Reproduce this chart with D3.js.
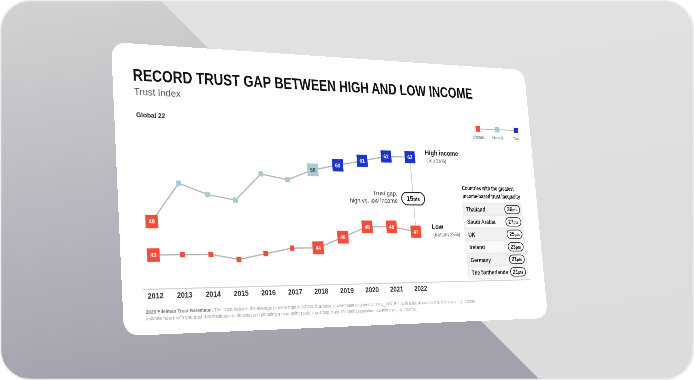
<!DOCTYPE html>
<html><head><meta charset="utf-8">
<script src="https://cdn.jsdelivr.net/npm/d3@7"></script>
<style>
html,body{margin:0;padding:0;background:#fff;width:694px;height:380px;overflow:hidden}
#bg{position:absolute;left:0;top:0}
#card{position:absolute;left:0;top:0;width:960px;height:540px;transform-origin:0 0}
svg text{font-family:"Liberation Sans",Arial,Helvetica,sans-serif}
</style></head><body>
<svg id="bg" width="694" height="380"></svg>
<div id="card"><svg id="slide" width="960" height="540"></svg></div>
<script>
// ---------------- data ----------------
const years = [2012, 2013, 2014, 2015, 2016, 2017, 2018, 2019, 2020, 2021, 2022];
const highIncome = [49, 56, 54, 53, 58, 57, 59, 60, 61, 62, 62];
const lowIncome  = [43, 43, 43, 42, 43, 44, 44, 46, 48, 48, 47];
const labeledYears = [2012, 2018, 2019, 2020, 2021, 2022];
const countries = ["Thailand", "Saudi Arabia", "UK", "Ireland", "Germany", "The Netherlands"];
const countryGaps = [36, 27, 25, 23, 21, 21];
const legendLabels = ["Distrust", "Neutral", "Trust"];
const title = "RECORD TRUST GAP BETWEEN HIGH AND LOW INCOME";
const subtitle = "Trust Index";
const footnote1 = "The Trust Index is the average percent trust in NGOs, business, government and media. TRU_INS. Below is a list of institutions. For each one, please";
const footnote2 = "indicate how much you trust that institution to do what is right using a nine-point scale, top 4 box, trust. General population, 22-mkt avg., by income.";

const COL = {distrust: "#f24e3b", neutral: "#a9c9d5", trust: "#1b35c8"};
const colorOf = v => v < 50 ? COL.distrust : (v < 60 ? COL.neutral : COL.trust);

// ---------------- background ----------------
const bg = d3.select("#bg");
const defs = bg.append("defs");
defs.append("clipPath").attr("id", "frame").append("rect")
  .attr("x", 0.5).attr("y", 0.5).attr("width", 693).attr("height", 379).attr("rx", 30);
const g1 = defs.append("linearGradient").attr("id", "shade")
  .attr("x1", 0).attr("y1", 0).attr("x2", 0.25).attr("y2", 1);
g1.append("stop").attr("offset", 0).attr("stop-color", "#d3d3d3");
g1.append("stop").attr("offset", 0.45).attr("stop-color", "#bdbcc3");
g1.append("stop").attr("offset", 1).attr("stop-color", "#a3a1ac");
const g2 = defs.append("linearGradient").attr("id", "light")
  .attr("x1", 0).attr("y1", 0).attr("x2", 0.3).attr("y2", 1);
g2.append("stop").attr("offset", 0).attr("stop-color", "#e3e3e3");
g2.append("stop").attr("offset", 1).attr("stop-color", "#dcdcdc");
const fr = bg.append("g").attr("clip-path", "url(#frame)");
fr.append("rect").attr("width", 694).attr("height", 380).attr("fill", "url(#light)");
fr.append("polygon").attr("points", "0,0 160,0 540,380 0,380").attr("fill", "url(#shade)");
bg.append("rect").attr("x", 0.5).attr("y", 0.5).attr("width", 693).attr("height", 379).attr("rx", 30)
  .attr("fill", "none").attr("stroke", "#eeeeee").attr("stroke-width", 1.5);

// ---------------- perspective of the card ----------------
const W = 960, H = 540;
const quad = [[111, 42], [524, 70], [548, 318], [124, 336]]; // TL, TR, BR, BL
(function () {
  const [x0, y0] = quad[0], [x1, y1] = quad[1], [x2, y2] = quad[2], [x3, y3] = quad[3];
  const dx1 = x1 - x2, dx2 = x3 - x2, dx3 = x0 - x1 + x2 - x3;
  const dy1 = y1 - y2, dy2 = y3 - y2, dy3 = y0 - y1 + y2 - y3;
  const det = dx1 * dy2 - dx2 * dy1;
  const g = (dx3 * dy2 - dx2 * dy3) / det;
  const h = (dx1 * dy3 - dx3 * dy1) / det;
  const a = x1 - x0 + g * x1, b = x3 - x0 + h * x3, c = x0;
  const d = y1 - y0 + g * y1, e = y3 - y0 + h * y3, f = y0;
  const m = [a / W, d / W, 0, g / W, b / H, e / H, 0, h / H, 0, 0, 1, 0, c, f, 0, 1];
  d3.select("#card").style("transform", "matrix3d(" + m.join(",") + ")");
})();

// ---------------- slide ----------------
const S = d3.select("#slide");
S.append("rect").attr("width", W).attr("height", H).attr("rx", 28).attr("fill", "#ffffff");

S.append("text").attr("x", 40).attr("y", 71).text(title)
  .attr("font-size", 31).attr("font-weight", "bold").attr("fill", "#111")
  .attr("textLength", 775).attr("lengthAdjust", "spacingAndGlyphs");
S.append("text").attr("x", 41).attr("y", 98).text(subtitle)
  .attr("font-size", 19).attr("fill", "#555");
S.append("text").attr("x", 43).attr("y", 140).text("Global 22")
  .attr("font-size", 13).attr("font-weight", "bold").attr("fill", "#222");

// legend
const lx = d3.scalePoint().domain(legendLabels).range([821, 922]);
const legCols = [COL.distrust, COL.neutral, COL.trust];
S.append("line").attr("x1", lx("Distrust")).attr("x2", lx("Trust")).attr("y1", 136).attr("y2", 136)
  .attr("stroke", "#b8b8b8").attr("stroke-width", 2);
legendLabels.forEach((l, i) => {
  S.append("rect").attr("x", lx(l) - 6).attr("y", 130).attr("width", 12).attr("height", 12).attr("fill", legCols[i]);
  S.append("text").attr("x", lx(l)).attr("y", 157).attr("text-anchor", "middle").text(l)
    .attr("font-size", 9).attr("fill", "#666");
});

// scales
const x = d3.scalePoint().domain(years).range([64, 642]);
const y = d3.scaleLinear().domain([40, 65]).range([426.8, 170.3]);

// axis
S.append("line").attr("x1", 40).attr("x2", 922).attr("y1", 458).attr("y2", 458)
  .attr("stroke", "#d3d3d3").attr("stroke-width", 2);
const ax = S.append("g").attr("transform", "translate(0,458)")
  .call(d3.axisBottom(x).tickSize(0).tickPadding(7));
ax.select(".domain").remove();
ax.selectAll("text").attr("font-size", 14).attr("font-weight", "bold").attr("fill", "#333")
  .attr("font-family", '"Liberation Sans",Arial,sans-serif');

// lines
const line = d3.line().x((d, i) => x(years[i])).y(d => y(d));
[highIncome, lowIncome].forEach(s => {
  S.append("path").attr("d", line(s)).attr("fill", "none").attr("stroke", "#b4b4b4").attr("stroke-width", 2.5);
});

// trust gap connector
const last = years.length - 1;
S.append("line").attr("x1", x(years[last])).attr("x2", x(years[last]))
  .attr("y1", y(highIncome[last])).attr("y2", y(lowIncome[last]))
  .attr("stroke", "#bdbdbd").attr("stroke-width", 1.5);

// markers
function drawMarkers(series) {
  series.forEach((v, i) => {
    const yr = years[i];
    const big = labeledYears.includes(yr);
    const s = big ? 25 : 10;
    const cx = x(yr), cy = y(v), col = colorOf(v);
    S.append("rect").attr("x", cx - s / 2).attr("y", cy - s / 2).attr("width", s).attr("height", s)
      .attr("fill", col);
    if (big) {
      S.append("text").attr("x", cx).attr("y", cy + 4).attr("text-anchor", "middle").text(v)
        .attr("font-size", 11).attr("font-weight", "bold")
        .attr("fill", col === COL.neutral ? "#333" : "#fff");
    }
  });
}
drawMarkers(highIncome);
drawMarkers(lowIncome);

// series labels
const lblX = x(years[last]) + 38;
S.append("text").attr("x", lblX).attr("y", y(highIncome[last]) - 5).text("High income")
  .attr("font-size", 14).attr("font-weight", "bold").attr("fill", "#222");
S.append("text").attr("x", lblX + 2).attr("y", y(highIncome[last]) + 10).text("(Top 25%)")
  .attr("font-size", 11).attr("fill", "#666");
S.append("text").attr("x", lblX + 2).attr("y", y(lowIncome[last]) - 5).text("Low")
  .attr("font-size", 14).attr("font-weight", "bold").attr("fill", "#222");
S.append("text").attr("x", lblX + 4).attr("y", y(lowIncome[last]) + 10).text("(Bottom 25%)")
  .attr("font-size", 11).attr("fill", "#666");

// gap pill
const gap = highIncome[last] - lowIncome[last];
const pcx = x(years[last]), pcy = 287;
S.append("rect").attr("x", pcx - 28).attr("y", pcy - 13).attr("width", 56).attr("height", 26).attr("rx", 13)
  .attr("fill", "#fff").attr("stroke", "#222").attr("stroke-width", 2);
const pt = S.append("text").attr("x", pcx).attr("y", pcy + 5).attr("text-anchor", "middle")
  .attr("font-weight", "bold").attr("fill", "#111");
pt.append("tspan").attr("font-size", 15).text(gap);
pt.append("tspan").attr("font-size", 11).text("pts");
S.append("text").attr("x", pcx - 38).attr("y", 281).attr("text-anchor", "end").text("Trust gap,")
  .attr("font-size", 13).attr("fill", "#333");
S.append("text").attr("x", pcx - 38).attr("y", 296).attr("text-anchor", "end").text("high vs. low income")
  .attr("font-size", 13).attr("fill", "#333");

// table
const tx = 763, tw = 155, ty = 295, rh = 26.5;
S.append("text").attr("x", tx + 3).attr("y", 268).text("Countries with the greatest")
  .attr("font-size", 13).attr("font-weight", "bold").attr("fill", "#111")
  .attr("textLength", 135).attr("lengthAdjust", "spacingAndGlyphs");
S.append("text").attr("x", tx + 3).attr("y", 285).text("income-based trust inequality")
  .attr("font-size", 13).attr("font-weight", "bold").attr("fill", "#111")
  .attr("textLength", 150).attr("lengthAdjust", "spacingAndGlyphs");
S.append("rect").attr("x", tx).attr("y", ty).attr("width", tw).attr("height", rh * countries.length)
  .attr("fill", "#ececec");
countries.forEach((c, i) => {
  const ry = ty + i * rh;
  S.append("rect").attr("x", tx + 2).attr("y", ry + 1.5).attr("width", tw - 4).attr("height", rh - 3)
    .attr("fill", i % 2 ? "#fafafa" : "#f1f1f1");
  S.append("text").attr("x", tx + 9).attr("y", ry + rh / 2 + 4.5).text(c)
    .attr("font-size", 12).attr("font-weight", "bold").attr("fill", "#222");
  const pcx2 = tx + tw - 26;
  S.append("rect").attr("x", pcx2 - 20).attr("y", ry + rh / 2 - 9).attr("width", 40).attr("height", 18).attr("rx", 9)
    .attr("fill", "#fff").attr("stroke", "#222").attr("stroke-width", 1.6);
  const t = S.append("text").attr("x", pcx2).attr("y", ry + rh / 2 + 4).attr("text-anchor", "middle")
    .attr("font-weight", "bold").attr("fill", "#111");
  t.append("tspan").attr("font-size", 12).text(countryGaps[i]);
  t.append("tspan").attr("font-size", 9).text("pts");
});

// footnote
const fn = S.append("text").attr("x", 44).attr("y", 502).attr("font-size", 9).attr("fill", "#9a9a9a")
  .attr("textLength", 730).attr("lengthAdjust", "spacingAndGlyphs");
fn.append("tspan").attr("font-weight", "bold").attr("fill", "#777").text("2023 Edelman Trust Barometer. ");
fn.append("tspan").text(footnote1);
S.append("text").attr("x", 44).attr("y", 514).attr("font-size", 9).attr("fill", "#9a9a9a").text(footnote2);
</script>
</body></html>
